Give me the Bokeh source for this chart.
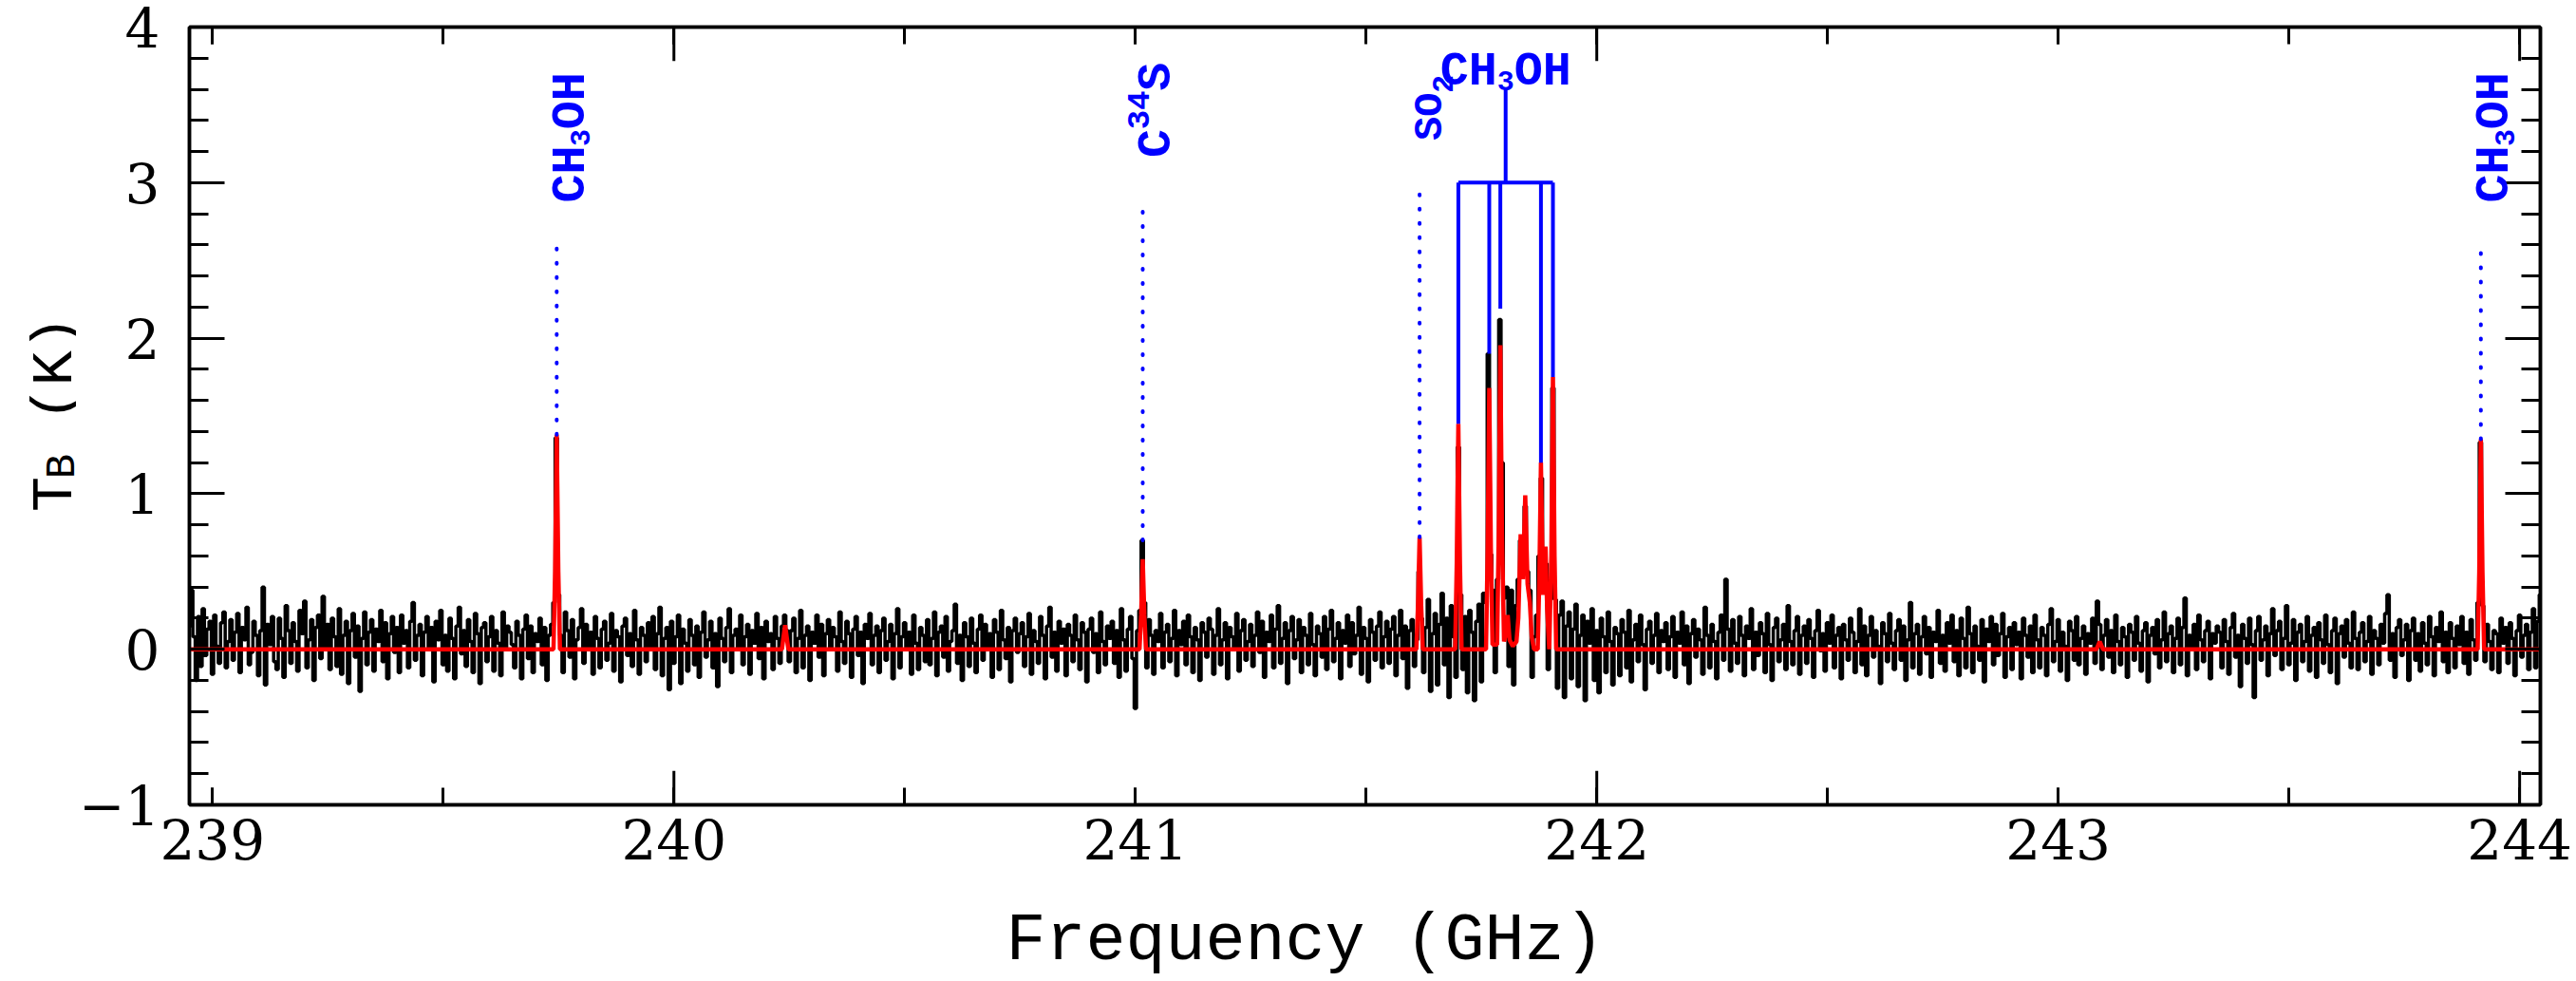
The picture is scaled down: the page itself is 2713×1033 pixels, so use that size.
import numpy as np
from bokeh.plotting import figure
from bokeh.models import Range1d, FixedTicker, LinearAxis, Label
from bokeh.layouts import row
from bokeh.core.properties import value
from bokeh.embed import file_html
from bokeh.resources import INLINE

# ---------------- data ----------------
f_start = 238.950          # first channel centre (GHz)
f_step = 0.005             # channel width (GHz)
tb_obs = [
 .15,.38,.08,-.20,.21,-.11,.26,-.04,.13,.18, -.16,.22,.02,-.09,.17,.24,-.12,.05,.19,-.07,
 .11,.23,-.15,.14,.06,.27,-.10,-.02,.18,.09, -.17,.12,.40,-.23,.16,.03,.21,-.08,-.13,.20,
 .07,-.18,.28,.12,-.09,.17,.05,-.14,.25,.10, .31,-.12,.06,.19,-.20,.14,.22,-.06,.34,.02,
 .16,-.13,.20,.08,-.11,.26,-.16,.09,.18,-.22, .12,.23,-.05,.15,-.27,.07,.24,-.10,.11,.19,
 -.14,.13,.05,.25,-.08,.17,-.19,.10,.21,-.02, .14,-.15,.22,.04,.12,-.12,.18,.30,-.07,.09,
 .16,-.17,.11,.21,.01,.14,-.21,.18,.06,.25, -.10,.09,-.14,.20,.07,-.19,.15,.27,-.03,.12,
 -.11,.19,.05,-.15,.23,.10,-.22,.14,.17,-.08, .08,.21,-.14,.12,.04,-.17,.24,.01,.15,.11,
 .03,-.12,.18,.09,-.19,.13,.22,-.06,.15,-.15, .10,.05,.20,-.10,.14,-.20,.09,.16,.30,1.36,
 .35,.09,-.15,.24,.12,-.05,.19,-.19,.06,.14, .26,-.09,.16,.01,.11,-.16,.21,.07,-.12,.13,
 .18,-.07,.04,.23,-.14,.12,.08,-.21,.15,.20, -.04,.10,-.11,.25,.06,-.16,.14,.09,-.08,.17,
 .01,.21,-.13,.10,.27,-.17,.07,.14,-.26,.18, -.09,.08,.22,-.22,.13,.04,-.14,.19,.09,-.10,
 .15,-.18,.11,.24,-.05,.06,.18,-.12,.10,-.24, .20,.07,-.08,.14,.26,-.15,.09,.13,.01,.22,
 -.10,.08,.16,-.16,.12,.04,.23,-.06,.14,-.19, .18,.05,.10,-.13,.21,.07,-.09,.15,.22,.12,
 -.08,.12,.20,-.15,.07,.25,-.12,.09,.15,-.20, .11,.04,.22,-.05,.16,-.17,.10,.19,.01,.14,
 .08,-.14,.24,.05,-.09,.18,.10,-.18,.13,.21, -.04,.11,-.22,.16,.07,.23,-.10,.09,.15,-.15,
 .12,.20,-.07,.05,.16,-.19,.10,.26,-.12,.08, .17,.01,.11,-.16,.22,.04,-.13,.14,.09,-.08,
 .19,-.10,.07,.24,-.17,.11,.15,-.05,.21,-.14, .05,.12,.29,-.09,.09,-.20,.17,.08,-.11,.20,
 .04,-.15,.13,.22,-.07,.16,.01,.10,-.18,.19, .11,-.13,.25,.06,-.06,.14,-.21,.12,.20,-.02,
 .10,.17,-.11,.08,.23,-.16,.12,.05,-.09,.21, .09,-.19,.15,.27,-.05,.11,-.14,.18,.04,.13,
 -.17,.16,.09,-.08,.22,.06,-.13,.17,.11,-.21, .13,.20,-.02,.10,-.15,.24,.05,-.10,.15,.07,
 .18,-.09,.12,-.18,.26,.06,-.14,.13,.21,-.06, -.38,.12,.25,.70,.30,-.12,.19,.09,-.16,.12,
 .05,.23,-.12,.11,.16,-.08,.07,.25,-.17,.12, .03,.18,-.10,.22,.08,-.15,.14,.06,-.20,.17,
 .11,-.05,.20,.13,-.16,.09,.26,-.10,.06,.17, -.19,.14,.08,.00,.23,-.14,.12,.19,-.07,.05,
 .16,-.11,.09,.24,-.02,.18,-.18,.11,.05,.22, -.12,.13,.28,-.09,.07,.17,-.22,.12,.21,-.06,
 .06,.19,-.15,.14,.09,-.10,.23,.03,-.17,.15, .10,-.05,.21,-.13,.13,.25,-.08,.07,.17,-.19,
 .12,.04,.22,-.11,.17,-.03,.09,.27,-.16,.14, .07,-.21,.19,.11,-.07,.15,.24,-.12,.08,.18,
 -.09,.13,.21,-.17,.09,.25,-.06,.15,-.25,.12, .19,-.11,.06,.50,.20,-.15,.14,.32,-.27,.10,
 .23,-.23,.16,.36,-.10,.20,-.31,.28,.08,-.18, 1.30,.35,-.13,.21,-.28,.25,.11,-.33,.18,.29,
 -.21,.36,.30,1.90,.61,.38,-.15,.45,2.12,1.20, .33,.40,-.11,.38,-.23,.28,.45,.70,.60,.92,
 .50,.38,-.18,.08,.22,.60,1.10,.45,.55,-.13, .40,1.68,.32,-.25,.22,.31,-.31,.15,.24,-.19,
 .13,.29,-.24,.09,.22,-.33,.18,.04,.26,-.20, .12,-.28,.20,.08,-.15,.24,.05,-.23,.14,.10,
 -.17,.19,.11,-.12,.25,-.21,.06,.16,-.08,.22, .03,-.26,.13,.18,-.09,.09,.23,-.15,.12,.05,
 .17,-.13,.08,.21,-.18,.11,.04,.24,-.10,.15, -.22,.10,.19,-.05,.13,.06,-.16,.27,.09,-.12,
 .16,.05,-.19,.11,.22,-.07,.45,.13,-.14,.19, .04,-.09,.21,.09,-.17,.15,.07,.26,-.13,.11,
 -.04,.17,.10,-.15,.23,.03,-.20,.14,.20,-.08, .06,.16,-.13,.28,.05,-.10,.12,.21,-.16,.09,
 .15,-.09,.19,.07,-.18,.12,.25,-.01,.10,-.14, .17,.04,.22,-.12,.09,.14,-.19,.16,.06,-.07,
 .20,.11,-.15,.05,.26,-.10,.15,-.17,.09,.21, -.05,.12,.02,-.22,.17,.10,-.08,.23,.04,-.13,
 .12,.19,-.07,.15,-.20,.06,.30,-.12,.10,.16, -.16,.08,.21,-.03,.14,-.18,.11,.05,.25,-.09,
 .09,-.14,.17,.04,.22,-.08,.12,-.17,.20,.07, -.12,.27,.10,-.15,.15,.02,-.07,.19,-.21,.13,
 .05,.21,-.10,.16,-.04,.10,.23,-.18,.08,.14, -.13,.17,.03,.11,-.19,.20,.09,-.05,.15,-.15,
 .22,.06,-.12,.14,.09,-.17,.16,.26,-.08,.05, .19,-.14,.11,.02,-.20,.18,.12,-.07,.21,-.10,
 .07,.15,-.16,.10,.04,.20,-.09,.31,.16,-.13, .09,.19,-.05,.12,-.15,.22,.05,-.10,.14,.08,
 -.18,.16,.11,-.07,.21,.04,-.14,.12,.17,-.21, .09,.14,-.03,.19,-.12,.06,.24,-.08,.10,.15,
 -.15,.07,.20,-.10,.14,.33,-.17,.09,.02,.16, -.13,.22,.06,-.08,.12,.18,-.19,.10,.04,.15,
 .11,-.12,.19,.05,-.16,.14,.23,-.05,.09,-.24, .16,.07,-.09,.20,.03,-.31,.12,.21,-.07,.06,
 .15,-.17,.10,.26,-.04,.12,.18,-.13,.07,.28, -.10,.04,.19,-.20,.11,.16,-.08,.05,.21,-.14,
 .09,.14,-.18,.17,.06,-.09,.22,.03,-.15,.12, .20,-.22,.10,.15,-.05,.19,.04,-.12,.24,.07,
 -.13,.11,.17,-.08,.05,.21,-.16,.12,.07,-.10, .16,.04,.23,.35,-.07,.10,-.18,.14,.19,-.04,
 .06,.16,-.20,.12,.20,-.07,.10,-.14,.17,.04, -.10,.21,.08,-.17,.14,.05,.24,-.08,.11,-.15,
 .17,.07,-.12,.15,.03,.21,-.09,.11,-.16,.19, .06,-.07,.30,1.33,.28,-.08,.16,.05,-.13,.12,
 .10,-.15,.20,.04,.14,-.09,.17,.07,-.17,.12, .22,-.05,.09,.16,-.13,.11,.26,-.12,.18,.35,
]
freq_obs = f_start + f_step * np.arange(len(tb_obs))

# model (red) spectrum
model_freq = [238.950,
    239.739, 239.7425, 239.746, 239.7495, 239.753,
    240.234, 240.241, 240.248,
    241.009, 241.0125, 241.016, 241.0195, 241.023,
    241.609, 241.6125, 241.616, 241.6195, 241.623,
    241.693, 241.6965, 241.700, 241.7035, 241.707,
    241.760, 241.7635, 241.767, 241.7705, 241.774,
    241.784, 241.7875, 241.791, 241.7945, 241.799,
    241.803, 241.807, 241.811, 241.818,
    241.826, 241.830, 241.835, 241.840, 241.845, 241.850, 241.855, 241.859, 241.864,
    241.872, 241.8755, 241.879, 241.8835, 241.889, 241.8925, 241.897,
    241.9015, 241.905, 241.9085, 241.912,
    243.083, 243.090, 243.097,
    243.909, 243.9125, 243.916, 243.9195, 243.923,
    244.045]
model_tb = [0.0,
    0.0, 0.50, 1.38, 0.50, 0.0,
    0.0, 0.155, 0.0,
    0.0, 0.22, 0.58, 0.22, 0.0,
    0.0, 0.28, 0.72, 0.28, 0.0,
    0.0, 0.55, 1.45, 0.55, 0.0,
    0.0, 0.65, 1.68, 0.65, 0.03,
    0.03, 0.75, 1.955, 0.75, 0.05,
    0.10, 0.22, 0.06, 0.02,
    0.05, 0.20, 0.74, 0.45, 0.99, 0.42, 0.30, 0.08, 0.0,
    0.0, 0.45, 1.20, 0.35, 0.66, 0.25, 0.0,
    0.60, 1.75, 0.60, 0.0,
    0.0, 0.05, 0.0,
    0.0, 0.50, 1.35, 0.50, 0.0,
    0.0]

# single-line identifications (dotted markers)
single_freq = [239.746, 241.016, 241.616, 243.916]
single_bottom = [1.38, 0.70, 0.72, 1.35]
single_top = [2.61, 2.86, 2.95, 2.61]

# CH3OH J=5-4 band components (bracket)
band_freq = [241.700, 241.767, 241.791, 241.879, 241.905]
band_bottom = [1.45, 1.90, 2.19, 1.20, 1.75]
band_level = 3.0
band_stem_top = 3.61

# axes
x_min, x_max = 238.95, 244.045
y_min, y_max = -1.0, 4.0
x_label_ticks = [239, 240, 241, 242, 243, 244]
x_minor_ticks = [239.0, 239.5, 240.0, 240.5, 241.0, 241.5, 242.0, 242.5, 243.0, 243.5, 244.0]
x_long_ticks = [240, 242, 244]
y_major_ticks = [-1, 0, 1, 2, 3, 4]
y_minor_ticks = [round(-1 + 0.2 * i, 1) for i in range(26)]
x_title = "Frequency (GHz)"

# ---------------- layout (page pixels) ----------------
PAGE_W, PAGE_H = 2713, 1033
FRAME_L, FRAME_R, FRAME_T, FRAME_B = 199, 2675, 28, 854
YL_W = 80                     # strip holding the y-axis title
PW = PAGE_W - YL_W
BL = FRAME_L - YL_W
BR = PAGE_W - FRAME_R
BT = FRAME_T
BB = PAGE_H - FRAME_B
PXG = (FRAME_R - FRAME_L) / (x_max - x_min)   # px per GHz
PXK = (FRAME_B - FRAME_T) / (y_max - y_min)   # px per K

p = figure(width=PW, height=PAGE_H, x_range=Range1d(x_min, x_max), y_range=Range1d(y_min, y_max),
           title=None, output_backend="svg", toolbar_location=None,
           min_border_left=BL, min_border_right=BR, min_border_top=BT, min_border_bottom=BB)
p.xgrid.visible = False
p.ygrid.visible = False
p.background_fill_color = "white"
p.border_fill_color = "white"
p.outline_line_color = "black"
p.outline_line_width = 3.5

TICK_FONT = "DejaVu Serif"
LAB_FONT = "Liberation Mono"


def style_axis(ax, ticker, major_in, minor_in, labels, label_ticks):
    ax.ticker = ticker
    ax.major_tick_in = major_in
    ax.major_tick_out = 0
    ax.minor_tick_in = minor_in
    ax.minor_tick_out = 0
    ax.major_tick_line_width = 3
    ax.minor_tick_line_width = 3
    ax.major_tick_line_color = "black"
    ax.minor_tick_line_color = "black"
    ax.axis_line_width = 3.5
    ax.axis_line_color = "black"
    if labels:
        ax.major_label_text_font = TICK_FONT
        ax.major_label_text_font_size = "58px"
        ax.major_label_text_color = "black"
    else:
        ax.major_label_overrides = {t: "" for t in label_ticks}
        ax.major_label_standoff = 0


style_axis(p.xaxis[0], FixedTicker(ticks=x_label_ticks, minor_ticks=x_minor_ticks), 18, 18,
           True, x_label_ticks)
p.xaxis[0].major_label_standoff = 14
p.xaxis[0].axis_label = x_title + "\u00a0\u00a0\u00a0"
p.xaxis[0].axis_label_text_font = LAB_FONT
p.xaxis[0].axis_label_text_font_size = "70px"
p.xaxis[0].axis_label_text_font_style = "normal"
p.xaxis[0].axis_label_text_color = "black"
p.xaxis[0].axis_label_standoff = 44
style_axis(p.yaxis[0], FixedTicker(ticks=y_major_ticks, minor_ticks=y_minor_ticks), 37, 20,
           True, y_major_ticks)
p.yaxis[0].major_label_standoff = 31
p.yaxis[0].major_label_overrides = {-1: "\u22121"}

top_ax = LinearAxis()
style_axis(top_ax, FixedTicker(ticks=x_label_ticks, minor_ticks=x_minor_ticks), 18, 18,
           False, x_label_ticks)
p.add_layout(top_ax, "above")
right_ax = LinearAxis()
style_axis(right_ax, FixedTicker(ticks=y_major_ticks, minor_ticks=y_minor_ticks), 37, 20,
           False, y_major_ticks)
p.add_layout(right_ax, "right")

# longer ticks every 2 GHz (bottom and top)
long_len = 36 / PXK
p.segment(x0=x_long_ticks, y0=[y_min] * 3, x1=x_long_ticks, y1=[y_min + long_len] * 3,
          line_color="black", line_width=3)
p.segment(x0=x_long_ticks, y0=[y_max] * 3, x1=x_long_ticks, y1=[y_max - long_len] * 3,
          line_color="black", line_width=3)

# ---------------- spectra ----------------
p.step(freq_obs, tb_obs, mode="center", line_color="black", line_width=3.5)
p.line(model_freq, model_tb, line_color="red", line_width=4.5)

# ---------------- line markers ----------------
BLUE = "#0000ff"
p.segment(x0=single_freq, y0=single_bottom, x1=single_freq, y1=single_top,
          line_color=BLUE, line_width=4, line_dash="1 14", line_cap="round")
p.segment(x0=band_freq, y0=band_bottom, x1=band_freq, y1=[band_level] * len(band_freq),
          line_color=BLUE, line_width=4)
p.segment(x0=[min(band_freq)], y0=[band_level], x1=[max(band_freq)], y1=[band_level],
          line_color=BLUE, line_width=4)
band_centre = (min(band_freq) + max(band_freq)) / 2
p.segment(x0=[band_centre], y0=[band_level], x1=[band_centre], y1=[band_stem_top],
          line_color=BLUE, line_width=4)


def vlabel(x, y0, pieces, shift):
    # rotated text (reads upward); pieces: (text, size px, along px, perp px)
    for t, s, along, perp in pieces:
        p.add_layout(Label(x=x + (shift + perp) / PXG, y=y0 + along / PXK, text=t,
                           angle=np.pi / 2, text_font=LAB_FONT, text_font_size=f"{s}px",
                           text_font_style="bold", text_color=BLUE,
                           text_align="left", text_baseline="alphabetic"))


def hlabel(xc, ybase, pieces, total):
    for t, s, along, perp in pieces:
        p.add_layout(Label(x=xc + (along - total / 2) / PXG, y=ybase - perp / PXK, text=t,
                           text_font=LAB_FONT, text_font_size=f"{s}px", text_font_style="bold",
                           text_color=BLUE, text_align="left", text_baseline="alphabetic"))


ch3oh = [("CH", 50, 0, 0), ("3", 30, 60, 10), ("OH", 50, 78, 0)]
vlabel(single_freq[0], 2.87, ch3oh, 15)
vlabel(single_freq[3], 2.87, ch3oh, 15)
vlabel(single_freq[1], 3.16, [("C", 50, 0, 0), ("34", 34, 30, -20), ("S", 50, 71, 0)], 15)
vlabel(single_freq[2], 3.27, [("SO", 42, 0, 0), ("2", 32, 50.4, 12)], 12)
hlabel(band_centre, 3.715, ch3oh, 138)

# ---------------- y-axis title strip ----------------
yl = figure(width=YL_W, height=PAGE_H, x_range=Range1d(0, YL_W), y_range=p.y_range,
            title=None, output_backend="svg", toolbar_location=None, x_axis_location=None,
            y_axis_location=None, min_border_left=0, min_border_right=0,
            min_border_top=BT, min_border_bottom=BB)
yl.grid.visible = False
yl.outline_line_color = None
yl.background_fill_color = "white"
yl.border_fill_color = "white"
ytitle_pieces = [("T", 62, 0, 0), ("B", 44, 35, 7), ("(K)", 62, 96, 0)]
ytitle_base_x = 58
ytitle_y0 = 0.8835
for t, s, along, perp in ytitle_pieces:
    yl.text(x=[ytitle_base_x + perp], y=[ytitle_y0 + along / PXK], text=[t], angle=np.pi / 2,
            text_font=value(LAB_FONT), text_font_size=value(f"{s}px"), text_color="black",
            text_align="left", text_baseline="alphabetic")

layout = row(yl, p)
open("out.html", "w").write(file_html(layout, INLINE))
